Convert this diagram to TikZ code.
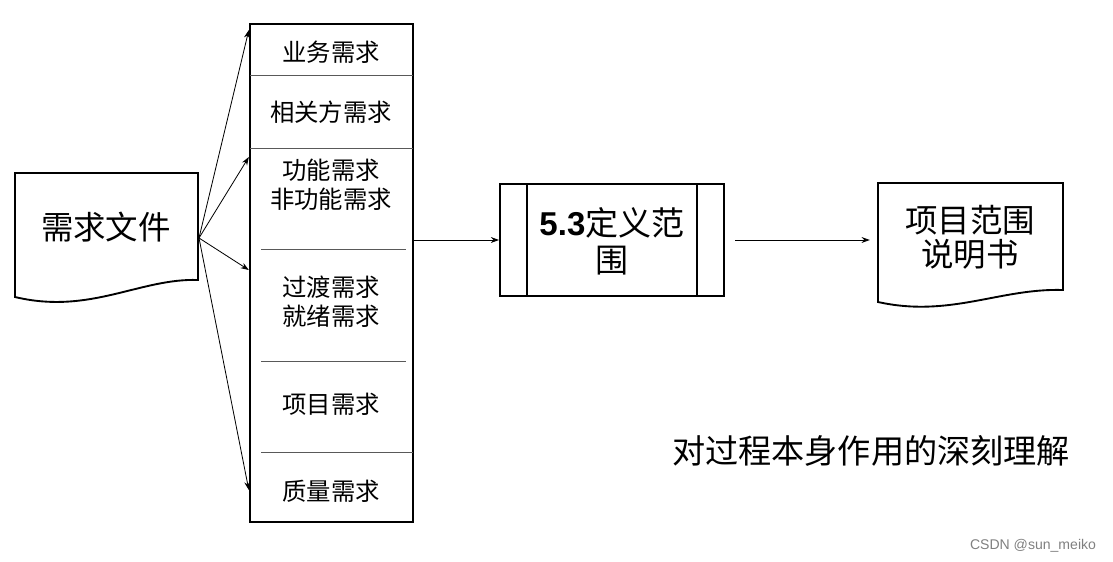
\documentclass[tikz,border=0pt]{standalone}
\usepackage{fontspec}
\setmainfont{Noto Sans CJK SC}
\newfontfamily\latinfont{Liberation Sans}
\usetikzlibrary{arrows.meta}

\begin{document}
\begin{tikzpicture}[x=0.03cm,y=-0.03cm,
    doc/.style={line width=1.6pt},
    box/.style={draw,line width=2pt},
    divline/.style={gray!70!black,line width=0.8pt},
    arr/.style={-{Stealth[length=7pt,width=5pt]},line width=0.7pt},
    big/.style={font=\fontsize{27.7pt}{29pt}\selectfont,align=center},
    small/.style={font=\fontsize{20.8pt}{25pt}\selectfont,align=center}]
    \useasboundingbox (0,0) rectangle (1113,562);

    % Input document
    \draw[doc] (15,173) -- (198,173) -- (198,280)
        .. controls (140,278) and (90,315) .. (15,297) -- cycle;
    \node[big] (reqdoc) at (106,227) {需求文件};
    \coordinate (docout) at (199,238);

    % Requirements column
    \node[box,minimum width=4.89cm,minimum height=14.94cm] (reqbox) at (331.5,273) {};
    \foreach \ya/\xa/\xb in {75/250/413,148/250/413,249/261/406,361/261/406,452/261/413}
        \draw[divline] (\xa,\ya) -- (\xb,\ya);
    \foreach \y/\txt/\name in {52/{业务需求}/bizreq,112/{相关方需求}/stakereq,
            185/{功能需求\\非功能需求}/funcreq,302/{过渡需求\\就绪需求}/transreq,
            404/{项目需求}/projreq,491/{质量需求}/qualreq}
        \node[small] (\name) at (331,\y) {\txt};

    % Arrows into the column
    \foreach \y in {30,157,270,490}
        \draw[arr] (docout) -- (reqbox.west |- 0,\y);

    % Process
    \node[box,line width=1.6pt,minimum width=6.72cm,minimum height=3.36cm] (proc) at (612,240) {};
    \draw[doc] ([xshift=0.84cm]proc.north west) -- ([xshift=0.84cm]proc.south west);
    \draw[doc] ([xshift=-0.84cm]proc.north east) -- ([xshift=-0.84cm]proc.south east);
    \node[big,font=\fontsize{28.2pt}{31.5pt}\selectfont] (proctext) at (612,241)
        {{\latinfont\bfseries 5.3}定义范\\围};
    \draw[arr] (reqbox.east |- proc.west) -- (proc.west);

    % Output document
    \draw[doc] (878,183) -- (1063,183) -- (1063,290)
        .. controls (1000,288) and (950,318) .. (878,302) -- cycle;
    \node[big] (scopedoc) at (970,237) {项目范围\\说明书};
    \coordinate (docin) at (878,240);
    \draw[arr,shorten <=9pt,shorten >=7pt] (proc.east) -- (docin);

    % Note
    \node[font=\fontsize{28.3pt}{34pt}\selectfont] (insight) at (871,451) {对过程本身作用的深刻理解};
    \node[font=\latinfont\fontsize{12pt}{14pt}\selectfont,text=gray] (mark) at (1033,546) {CSDN @sun\_meiko};
\end{tikzpicture}
\end{document}
